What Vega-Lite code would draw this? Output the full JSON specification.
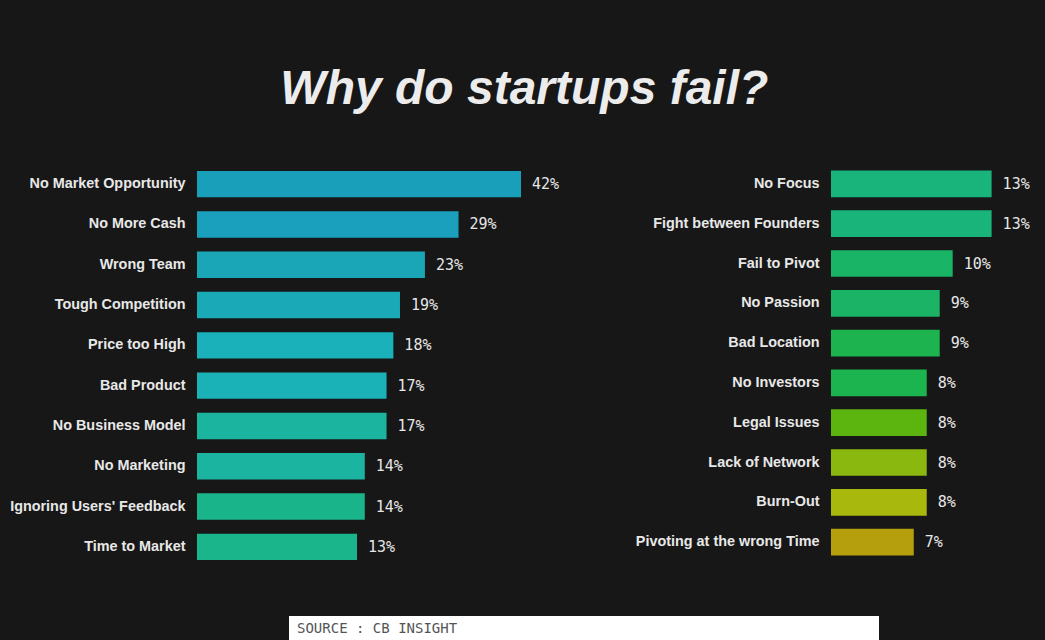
{
  "$schema": "https://vega.github.io/schema/vega-lite/v6.json",
  "background": "#171717",
  "padding": {"left": 9, "top": 66, "right": 0, "bottom": 0},
  "title": {
    "text": "Why do startups fail?",
    "font": "Liberation Sans",
    "fontSize": 48,
    "fontWeight": "bold",
    "fontStyle": "italic",
    "color": "#ececec",
    "anchor": "middle",
    "offset": 50,
    "dx": -4
  },
  "config": {
    "view": {"stroke": null},
    "axis": {
      "ticks": false,
      "domain": false,
      "grid": false,
      "labelPadding": 12,
      "labelFont": "Liberation Sans",
      "labelFontWeight": "bold",
      "labelFontSize": 14.4,
      "labelColor": "#e8e8e8",
      "labelLimit": 400,
      "title": null
    }
  },
  "datasets": {
    "left": [
      {"reason": "No Market Opportunity", "pct": 0.42},
      {"reason": "No More Cash", "pct": 0.29},
      {"reason": "Wrong Team", "pct": 0.23},
      {"reason": "Tough Competition", "pct": 0.19},
      {"reason": "Price too High", "pct": 0.18},
      {"reason": "Bad Product", "pct": 0.17},
      {"reason": "No Business Model", "pct": 0.17},
      {"reason": "No Marketing", "pct": 0.14},
      {"reason": "Ignoring Users' Feedback", "pct": 0.14},
      {"reason": "Time to Market", "pct": 0.13}
    ],
    "right": [
      {"reason": "No Focus", "pct": 0.13},
      {"reason": "Fight between Founders", "pct": 0.13},
      {"reason": "Fail to Pivot", "pct": 0.10},
      {"reason": "No Passion", "pct": 0.09},
      {"reason": "Bad Location", "pct": 0.09},
      {"reason": "No Investors", "pct": 0.08},
      {"reason": "Legal Issues", "pct": 0.08},
      {"reason": "Lack of Network", "pct": 0.08},
      {"reason": "Burn-Out", "pct": 0.08},
      {"reason": "Pivoting at the wrong Time", "pct": 0.07}
    ],
    "source": [
      {"source": "SOURCE : CB INSIGHT"}
    ],
    "empty": []
  },
  "vconcat": [
    {
      "hconcat": [
        {
          "width": 370,
          "height": 403,
          "data": {"name": "left"},
          "encoding": {
            "y": {
              "field": "reason",
              "type": "nominal",
              "sort": null,
              "scale": {"paddingInner": 0.345, "paddingOuter": 0.1725}
            },
            "x": {
              "field": "pct",
              "type": "quantitative",
              "scale": {"type": "sqrt", "domain": [0.0064, 0.531], "zero": false, "nice": false},
              "axis": null
            }
          },
          "layer": [
            {
              "mark": {"type": "bar"},
              "encoding": {
                "x2": {"datum": 0.0064},
                "color": {
                  "field": "reason",
                  "type": "nominal",
                  "legend": null,
                  "scale": {
                    "domain": ["No Market Opportunity", "No More Cash", "Wrong Team", "Tough Competition", "Price too High", "Bad Product", "No Business Model", "No Marketing", "Ignoring Users' Feedback", "Time to Market"],
                    "range": ["#1a9fbb", "#1aa0bc", "#1aa6b6", "#1aa9b6", "#1ab1ba", "#1ab2b6", "#1bb59f", "#1bb4a0", "#1ab48a", "#1ab58a"]
                  }
                }
              }
            },
            {
              "mark": {"type": "text", "align": "left", "baseline": "middle", "dx": 11, "font": "DejaVu Sans Mono", "fontSize": 15, "color": "#e6e6e6"},
              "encoding": {"text": {"field": "pct", "type": "quantitative", "format": ".0%"}}
            }
          ]
        },
        {
          "width": 216,
          "height": 398,
          "data": {"name": "right"},
          "encoding": {
            "y": {
              "field": "reason",
              "type": "nominal",
              "sort": null,
              "scale": {"paddingInner": 0.33, "paddingOuter": 0.165}
            },
            "x": {
              "field": "pct",
              "type": "quantitative",
              "scale": {"type": "linear", "domain": [0.0062, 0.1727], "zero": false, "nice": false},
              "axis": null
            }
          },
          "layer": [
            {
              "mark": {"type": "bar"},
              "encoding": {
                "x2": {"datum": 0.0062},
                "color": {
                  "field": "reason",
                  "type": "nominal",
                  "legend": null,
                  "scale": {
                    "domain": ["No Focus", "Fight between Founders", "Fail to Pivot", "No Passion", "Bad Location", "No Investors", "Legal Issues", "Lack of Network", "Burn-Out", "Pivoting at the wrong Time"],
                    "range": ["#18b47c", "#18b47a", "#1ab467", "#1bb366", "#1db34e", "#1cb44e", "#5cb50f", "#8ab80f", "#a8b80c", "#b59f0c"]
                  }
                }
              }
            },
            {
              "mark": {"type": "text", "align": "left", "baseline": "middle", "dx": 11, "font": "DejaVu Sans Mono", "fontSize": 15, "color": "#e6e6e6"},
              "encoding": {"text": {"field": "pct", "type": "quantitative", "format": ".0%"}}
            }
          ]
        }
      ],
      "spacing": 68,
      "resolve": {"scale": {"color": "independent"}}
    },
    {
      "hconcat": [
        {
          "width": 92,
          "height": 25,
          "data": {"name": "empty"},
          "mark": "rect",
          "encoding": {}
        },
        {
          "width": 590,
          "height": 25,
          "view": {"fill": "#ffffff", "stroke": null},
          "data": {"name": "source"},
          "mark": {"type": "text", "align": "left", "baseline": "middle", "font": "DejaVu Sans Mono", "fontSize": 14, "color": "#555555"},
          "encoding": {
            "x": {"value": 8},
            "text": {"field": "source", "type": "nominal"}
          }
        }
      ],
      "spacing": 0
    }
  ],
  "spacing": 49
}
